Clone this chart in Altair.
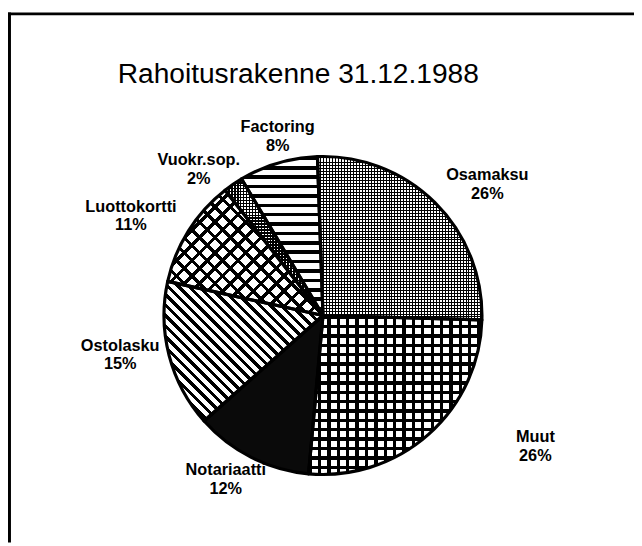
import math
import altair as alt
import pandas as pd

# ---------------- data ----------------
title_text = "Rahoitusrakenne 31.12.1988"
categories = ["Osamaksu", "Muut", "Notariaatti", "Ostolasku", "Luottokortti", "Vuokr.sop.", "Factoring"]
shares = [26, 26, 12, 15, 11, 2, 8]

df = pd.DataFrame({"category": categories, "share": shares, "order": list(range(len(categories)))})

# ---------------- layout / style ----------------
W, H = 634, 538
CX, CY = 319, 308
R = 161
LABEL_R = 205
START = -2 * math.pi / 180
theta_scale = alt.Scale(domain=[0, 100], range=[START, START + 2 * math.pi])
FONT = "Liberation Sans"


def slice_bbox(a0, a1, r):
    pts = [(0.0, 0.0)]
    for a in (a0, a1):
        pts.append((r * math.sin(a), -r * math.cos(a)))
    k = math.ceil(a0 / (math.pi / 2))
    while k * math.pi / 2 <= a1:
        a = k * math.pi / 2
        pts.append((r * math.sin(a), -r * math.cos(a)))
        k += 1
    xs = [p[0] for p in pts]
    ys = [p[1] for p in pts]
    return max(xs) - min(xs), max(ys) - min(ys)


def stripes(w, h, nx, ny, period, lw, ink="black", paper="white"):
    nl = math.hypot(nx, ny)
    nx, ny = nx / nl, ny / nl
    s = [0.0, w * nx, h * ny, w * nx + h * ny]
    smin, smax = min(s), max(s)
    L = smax - smin
    gx, gy = w * nx / L, h * ny / L
    g2 = gx * gx + gy * gy
    vx, vy = gx / g2, gy / g2
    c = smin / L
    p1x, p1y = gx * c / g2, gy * c / g2
    n = L / period
    f = lw / period
    stops = []
    i = 0
    while i / n < 1:
        a = round(i / n, 5)
        b = round(min((i + f) / n, 1), 5)
        e = round(min((i + 1) / n, 1), 5)
        stops += [{"offset": a, "color": ink}, {"offset": b, "color": ink}]
        if b < 1:
            stops += [{"offset": b, "color": paper}, {"offset": e, "color": paper}]
        i += 1
    return {"gradient": "linear", "x1": round(p1x, 5), "y1": round(p1y, 5),
            "x2": round(p1x + vx, 5), "y2": round(p1y + vy, 5), "stops": stops}


CLEAR = "rgba(0,0,0,0)"
# pattern per category: list of (normal-x, normal-y, period, line width)
patterns = {
    "Osamaksu": [(0, 1, 3, 1), (1, 0, 3, 1)],
    "Muut": [(0, 1, 9.5, 3.4), (1, 0, 9.5, 3.4)],
    "Notariaatti": "solid",
    "Ostolasku": [(1, -1, 7.5, 3.2)],
    "Luottokortti": [(1, 1, 11, 3.3), (1, -1, 11, 3.3)],
    "Vuokr.sop.": [(0, 1, 3, 1.6), (1, 0, 3, 1.6)],
    "Factoring": [(0, 1, 9.5, 3.6)],
}
label_offsets = {
    "Osamaksu": (22, 3),
    "Muut": (79, -30),
    "Notariaatti": (-6, -26),
    "Ostolasku": (-7, -21),
    "Luottokortti": (-21, -1),
    "Vuokr.sop.": (-10, 12),
    "Factoring": (12, 6),
}

base = (
    alt.Chart(df)
    .transform_window(cum="sum(share)", sort=[{"field": "order"}], frame=[None, 0])
    .transform_calculate(
        start="datum.cum - datum.share",
        mid="datum.cum - datum.share / 2",
        label="datum.category + '\\n' + datum.share + '%'",
    )
)

arc_enc = dict(
    theta=alt.Theta("start:Q", scale=theta_scale),
    theta2=alt.Theta2("cum:Q"),
    x=alt.value(CX),
    y=alt.value(CY),
)

layers = []
cum = 0
for cat, sh in zip(categories, shares):
    a0 = START + 2 * math.pi * cum / 100
    a1 = START + 2 * math.pi * (cum + sh) / 100
    cum += sh
    w, h = slice_bbox(a0, a1, R)
    pat = patterns[cat]
    sub = base.transform_filter(alt.datum.category == cat)
    if pat == "solid":
        layers.append(sub.mark_arc(radius=R, fill="#0a0a0a", strokeWidth=0).encode(**arc_enc))
        continue
    for j, (nx, ny, per, lw) in enumerate(pat):
        grad = stripes(w, h, nx, ny, per, lw, paper="white" if j == 0 else CLEAR)
        layers.append(sub.mark_arc(radius=R, fill=grad, strokeWidth=0).encode(**arc_enc))

# outlines
layers.append(
    base.mark_arc(radius=R, fillOpacity=0, fill="white", stroke="black", strokeWidth=3.2,
                  strokeJoin="round").encode(**arc_enc)
)

# labels
for cat in categories:
    dx, dy = label_offsets[cat]
    layers.append(
        base.transform_filter(alt.datum.category == cat)
        .mark_text(radius=LABEL_R, font=FONT, fontSize=16.5, fontWeight="bold", lineHeight=19,
                   lineBreak="\n", align="center", baseline="middle", dx=dx, dy=dy, color="black")
        .encode(
            theta=alt.Theta("mid:Q", scale=theta_scale, stack=None),
            x=alt.value(CX),
            y=alt.value(CY),
            text="label:N",
        )
    )

one = pd.DataFrame({"t": [title_text]})
title = alt.Chart(one).mark_text(
    font=FONT, fontSize=28.5, fontWeight="normal", align="center", baseline="middle", color="black"
).encode(text="t:N", x=alt.value(294), y=alt.value(64))
layers.append(title)

frame_top = alt.Chart(one).mark_rule(color="black", strokeWidth=3).encode(
    x=alt.value(0), x2=alt.value(W), y=alt.value(2.5))
frame_left = alt.Chart(one).mark_rule(color="black", strokeWidth=3).encode(
    x=alt.value(1.5), y=alt.value(1), y2=alt.value(H))
layers += [frame_top, frame_left]

chart = (
    alt.layer(*layers)
    .properties(width=W, height=H, autosize=alt.AutoSizeParams(type="none"), padding=0,
                background="white")
    .configure_view(stroke=None)
)

chart.save("out.html", embed_options={"renderer": "svg", "actions": False})
